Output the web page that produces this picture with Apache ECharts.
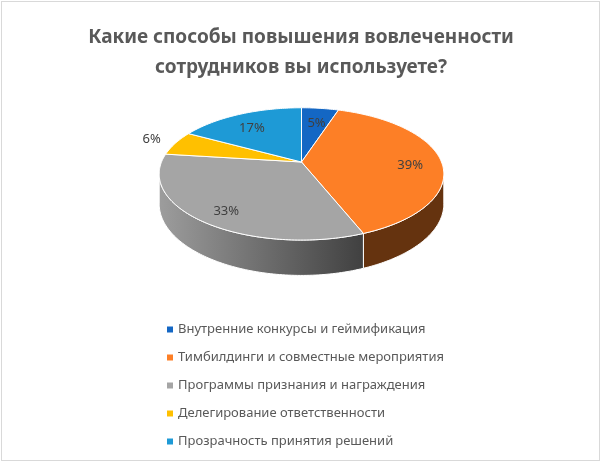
<!DOCTYPE html>
<html>
<head>
<meta charset="utf-8">
<script src="https://cdn.jsdelivr.net/npm/echarts@6/dist/echarts.min.js"></script>
<style>
html,body{margin:0;padding:0;background:#fff;}
#main{width:602px;height:463px;}
#frame{position:absolute;left:1px;top:1px;width:597px;height:458px;border:1px solid #d9d9d9;pointer-events:none;}
</style>
</head>
<body>
<div id="main"></div>
<div id="frame"></div>
<script>
var categories = [
	'Внутренние конкурсы и геймификация',
	'Тимбилдинги и совместные мероприятия',
	'Программы признания и награждения',
	'Делегирование ответственности',
	'Прозрачность принятия решений'
];
var values = [5, 39, 33, 6, 17];
var colors = ['#1467C4', '#FD7F26', '#A5A5A5', '#FFC000', '#1E9AD6'];
var outsideLabels = ['Делегирование ответственности'];

var total = 0;
var starts = [];
for (var i = 0; i < values.length; i++) {
	starts.push(total);
	total += values[i];
}

// perspective of the 3d pie
var K = 0.18, RX = 140, RY = 64, DEPTH = 29;

function proj(cx, cy, r, deg, drop) {
	var t = deg * Math.PI / 180;
	var u = r * Math.sin(t), v = r * Math.cos(t), w = 1 + K * v;
	return [cx + RX * u / w, cy + (-RY * v + drop) / w];
}

function arc(cx, cy, a, b, drop) {
	var pts = [];
	for (var d = a; d < b; d += 1) {
		pts.push(proj(cx, cy, 1, d, drop));
	}
	pts.push(proj(cx, cy, 1, b, drop));
	return pts;
}

function shade(hex, f) {
	var n = parseInt(hex.slice(1), 16);
	var r = Math.round(((n >> 16) & 255) * f);
	var g = Math.round(((n >> 8) & 255) * f);
	var b = Math.round((n & 255) * f);
	return 'rgb(' + r + ',' + g + ',' + b + ')';
}

function renderSlice(params, api) {
	var idx = params.dataIndex;
	var cx = api.getWidth() / 2 + 0.5, cy = 162;
	var a = starts[idx] / total * 360;
	var b = (starts[idx] + api.value(0)) / total * 360;
	var color = colors[idx];
	var children = [];

	// front side
	var vis0 = Math.acos(-K) * 180 / Math.PI, vis1 = 360 - vis0;
	var s = Math.max(a, vis0), e = Math.min(b, vis1);
	if (e > s) {
		var top = arc(cx, cy, s, e, 0);
		var bottom = arc(cx, cy, s, e, DEPTH).reverse();
		children.push({
			type: 'polygon',
			z2: 1,
			shape: { points: top.concat(bottom) },
			style: {
				fill: {
					type: 'linear', global: true,
					x: cx - 145, y: 0, x2: cx + 58, y2: 0,
					colorStops: [
						{ offset: 0, color: shade(color, 0.96) },
						{ offset: 1, color: shade(color, 0.40) }
					]
				},
				stroke: '#fff',
				lineWidth: 1
			}
		});
	}

	// top face
	var pts = [[cx, cy]].concat(arc(cx, cy, a, b, 0));
	children.push({
		type: 'polygon',
		z2: 10,
		shape: { points: pts },
		style: { fill: color, stroke: '#fff', lineWidth: 1 }
	});

	// label
	var mid = (a + b) / 2;
	var outside = outsideLabels.indexOf(categories[idx]) >= 0;
	var lp = proj(cx, cy, outside ? 1.2 : 0.78, mid, 0);
	children.push({
		type: 'text',
		z2: 20,
		style: {
			text: Math.round(api.value(0) / total * 100) + '%',
			x: lp[0], y: lp[1] + (outside ? 0 : 5),
			align: 'center', verticalAlign: 'middle',
			fill: '#404040',
			font: '13px "Noto Sans"'
		}
	});
	return { type: 'group', children: children };
}

var chart = echarts.init(document.getElementById('main'));
var option = {
	color: colors,
	animation: false,
	title: {
		text: 'Какие способы повышения вовлеченности\nсотрудников вы используете?',
		left: 'center',
		top: 18,
		textStyle: {
			fontFamily: 'Noto Sans',
			fontSize: 19,
			fontWeight: 'bold',
			color: '#595959',
			lineHeight: 30
		}
	},
	legend: {
		orient: 'vertical',
		left: 162,
		top: 318,
		icon: 'rect',
		itemWidth: 6,
		itemHeight: 6,
		itemGap: 15,
		data: categories,
		textStyle: { fontFamily: 'Noto Sans', fontSize: 13, color: '#595959' }
	},
	series: [
		{
			type: 'custom',
			coordinateSystem: 'none',
			renderItem: renderSlice,
			data: values,
			silent: true
		},
		{
			// only feeds the legend
			type: 'pie',
			radius: [0, 0],
			silent: true,
			label: { show: false },
			labelLine: { show: false },
			data: categories.map(function (c, i) { return { name: c, value: values[i] }; })
		}
	]
};
chart.setOption(option);
</script>
</body>
</html>
